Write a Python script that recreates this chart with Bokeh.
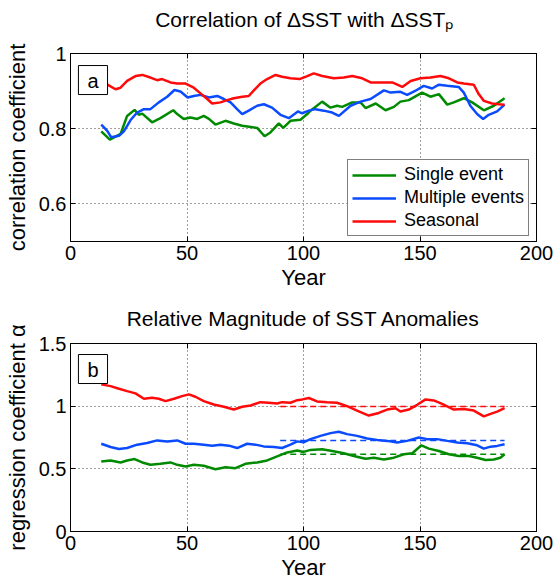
from bokeh.plotting import figure
from bokeh.layouts import column
from bokeh.models import LinearAxis, FixedTicker, Label, Legend, LegendItem, Range1d, Grid
from bokeh.embed import file_html
from bokeh.resources import INLINE

FONT = "Liberation Sans"
GREEN = "#008a00"
BLUE = "#0a4bff"
RED = "#ff0a0a"

# ---------------- data: panel a (correlation coefficient) ----------------
corr_single_year = [13.2, 16.9, 21.5, 24.3, 27.5, 29.3, 30.8, 35.0, 38.6, 44.1, 45.8, 48.6, 51.5, 54.4,
                    57.2, 59.4, 62.2, 66.5, 70.1, 73.7, 80.1, 83.3, 85.8, 89.4, 91.3, 94.4, 98.7, 101.6,
                    103.0, 108.0, 111.6, 114.4, 116.6, 120.9, 124.5, 126.6, 131.0, 135.2, 138.8, 141.6,
                    145.2, 150.9, 154.5, 158.1, 161.7, 164.5, 168.8, 172.4, 177.4, 181.7, 186.3]
corr_single = [0.793, 0.771, 0.786, 0.834, 0.850, 0.837, 0.840, 0.817, 0.828, 0.849, 0.839, 0.826, 0.830,
               0.826, 0.834, 0.826, 0.811, 0.821, 0.814, 0.808, 0.802, 0.780, 0.790, 0.814, 0.802, 0.821,
               0.824, 0.839, 0.848, 0.872, 0.856, 0.861, 0.858, 0.870, 0.870, 0.855, 0.867, 0.849, 0.858,
               0.872, 0.876, 0.896, 0.885, 0.892, 0.864, 0.870, 0.881, 0.870, 0.849, 0.861, 0.881]

corr_multi_year = [13.2, 15.7, 17.5, 20.8, 22.9, 25.8, 28.6, 31.5, 34.3, 37.9, 41.5, 44.6, 47.2, 50.3,
                   52.9, 55.8, 59.4, 63.0, 65.8, 68.7, 71.5, 73.7, 76.5, 80.1, 83.0, 86.5, 90.1, 93.7,
                   97.6, 99.4, 102.3, 105.1, 108.7, 112.3, 115.2, 120.2, 124.5, 128.8, 134.5, 137.4,
                   141.6, 144.5, 148.1, 151.6, 155.2, 158.1, 161.7, 166.6, 168.8, 171.6, 174.5, 177.1,
                   179.5, 183.1, 186.3]
corr_multi = [0.811, 0.795, 0.777, 0.781, 0.793, 0.823, 0.843, 0.852, 0.852, 0.870, 0.885, 0.903, 0.899,
              0.883, 0.887, 0.890, 0.883, 0.887, 0.879, 0.870, 0.852, 0.839, 0.848, 0.861, 0.865, 0.856,
              0.837, 0.828, 0.846, 0.841, 0.848, 0.852, 0.848, 0.843, 0.834, 0.861, 0.872, 0.879, 0.902,
              0.896, 0.898, 0.890, 0.901, 0.914, 0.907, 0.917, 0.914, 0.911, 0.896, 0.861, 0.839, 0.826,
              0.837, 0.846, 0.864]

corr_seasonal_year = [13.2, 15.7, 19.3, 21.5, 24.3, 27.9, 30.8, 34.3, 37.2, 39.3, 42.9, 45.8, 49.4, 52.9,
                      55.8, 58.7, 60.8, 64.4, 67.2, 70.1, 73.7, 76.5, 78.7, 81.5, 84.4, 88.0, 90.8, 94.4,
                      98.3, 101.6, 104.4, 108.0, 113.0, 117.3, 120.9, 125.2, 128.8, 134.5, 138.1, 142.4,
                      146.0, 150.2, 154.5, 158.8, 162.4, 166.0, 168.8, 173.1, 175.2, 177.4, 181.0, 183.8,
                      186.3]
corr_seasonal = [0.922, 0.918, 0.905, 0.909, 0.927, 0.940, 0.943, 0.936, 0.929, 0.932, 0.923, 0.920, 0.920,
                 0.909, 0.894, 0.879, 0.867, 0.870, 0.876, 0.881, 0.885, 0.887, 0.902, 0.920, 0.932, 0.943,
                 0.938, 0.934, 0.932, 0.940, 0.947, 0.940, 0.934, 0.936, 0.940, 0.934, 0.923, 0.923, 0.923,
                 0.911, 0.927, 0.934, 0.936, 0.940, 0.934, 0.923, 0.920, 0.917, 0.892, 0.874, 0.867, 0.865,
                 0.864]

# ---------------- data: panel b (regression coefficient) ----------------
reg_single_year = [13.2, 17.2, 21.5, 24.3, 27.5, 30.8, 34.3, 38.6, 42.9, 45.8, 49.4, 52.9, 57.2, 62.2,
                   66.5, 70.8, 75.1, 80.1, 84.4, 88.7, 93.0, 97.3, 100.0, 103.0, 108.0, 112.3, 117.3,
                   121.6, 126.6, 130.2, 134.5, 138.8, 143.1, 146.7, 150.6, 153.8, 158.1, 162.4, 166.6,
                   171.0, 174.5, 178.1, 181.7, 184.5, 186.3]
reg_single = [0.559, 0.567, 0.551, 0.567, 0.578, 0.551, 0.532, 0.540, 0.551, 0.532, 0.519, 0.532, 0.524,
              0.497, 0.513, 0.505, 0.540, 0.551, 0.567, 0.599, 0.631, 0.647, 0.635, 0.651, 0.656, 0.642,
              0.624, 0.602, 0.581, 0.589, 0.575, 0.589, 0.616, 0.624, 0.688, 0.661, 0.642, 0.616, 0.602,
              0.602, 0.589, 0.570, 0.575, 0.589, 0.616]

reg_multi_year = [13.2, 17.2, 20.8, 24.3, 28.6, 32.9, 37.2, 41.5, 45.8, 49.4, 52.9, 57.2, 60.8, 64.4,
                  68.0, 71.5, 75.8, 79.4, 82.9, 87.3, 90.8, 94.4, 97.3, 100.0, 103.0, 107.3, 111.6,
                  115.2, 118.7, 123.0, 127.3, 131.6, 135.9, 140.2, 144.5, 149.5, 153.1, 157.4, 161.7,
                  166.0, 170.3, 174.5, 177.4, 180.3, 183.1, 186.3]
reg_multi = [0.700, 0.674, 0.658, 0.666, 0.693, 0.706, 0.727, 0.719, 0.727, 0.700, 0.700, 0.693, 0.685,
             0.693, 0.685, 0.666, 0.700, 0.693, 0.679, 0.674, 0.666, 0.693, 0.719, 0.711, 0.737, 0.763,
             0.785, 0.796, 0.777, 0.763, 0.742, 0.731, 0.723, 0.710, 0.723, 0.750, 0.737, 0.737, 0.723,
             0.710, 0.704, 0.688, 0.661, 0.677, 0.683, 0.696]

reg_seasonal_year = [13.2, 17.2, 20.8, 24.3, 27.9, 31.5, 35.0, 37.9, 40.8, 44.4, 47.9, 50.8, 53.6, 57.2,
                     61.5, 65.8, 70.1, 73.7, 77.3, 81.5, 85.1, 88.7, 90.8, 94.4, 97.3, 99.5, 102.3, 105.8,
                     110.1, 114.4, 118.7, 123.0, 128.0, 132.3, 135.9, 139.5, 141.6, 145.2, 148.8, 152.4,
                     155.9, 159.5, 164.5, 168.8, 173.1, 177.4, 180.3, 183.1, 186.3]
reg_seasonal = [1.174, 1.160, 1.139, 1.120, 1.102, 1.059, 1.067, 1.059, 1.040, 1.059, 1.080, 1.094, 1.075,
                1.040, 1.013, 0.995, 0.973, 0.995, 1.005, 1.032, 1.027, 1.021, 1.032, 1.027, 1.048, 1.054,
                1.065, 1.038, 1.032, 1.027, 1.000, 0.965, 0.925, 0.946, 0.973, 0.984, 0.957, 0.973, 1.011,
                1.054, 1.046, 1.019, 0.973, 0.978, 0.965, 0.919, 0.938, 0.957, 0.984]

# mean levels (dashed) over the later period
mean_years = [90.0, 186.3]
mean_single = 0.617
mean_multi = 0.727
mean_seasonal = 0.997

x_ticks = [0, 50, 100, 150, 200]
a_ticks = [0.6, 0.8, 1.0]
a_tick_labels = {0.6: "0.6", 0.8: "0.8", 1.0: "1"}
b_ticks = [0.0, 0.5, 1.0, 1.5]
b_tick_labels = {0.0: "0", 0.5: "0.5", 1.0: "1", 1.5: "1.5"}
legend_labels = ["Single event", "Multiple events", "Seasonal"]
title_a = "Correlation of \u0394SST with \u0394SST\u209a"
title_b = "Relative Magnitude of SST Anomalies"

FRAME_W = 466


def title_strip(text, height, text_y):
    """A strip above panel a that carries its title inside its own frame."""
    t = figure(frame_width=FRAME_W, frame_height=height, x_range=Range1d(0, FRAME_W),
               y_range=Range1d(0, height), output_backend="svg", toolbar_location=None,
               x_axis_type=None, y_axis_type=None, min_border_left=70, min_border_right=18,
               min_border_top=0, min_border_bottom=0)
    t.outline_line_color = None
    t.background_fill_color = "white"
    t.border_fill_color = "white"
    t.xgrid.visible = False
    t.ygrid.visible = False
    t.add_layout(Label(x=FRAME_W / 2 + 1, y=text_y, text=text, text_align="center",
                       text_baseline="middle", text_font=FONT, text_font_size="21px",
                       text_color="black"))
    return t


def style_axis(ax, visible_labels=True):
    ax.major_label_text_font = FONT
    ax.major_label_text_font_size = "20px" if visible_labels else "1px"
    ax.major_label_text_color = "black" if visible_labels else None
    ax.axis_label_text_font = FONT
    ax.axis_label_text_font_size = "22px"
    ax.axis_label_text_font_style = "normal"
    ax.axis_label_text_color = "black"
    ax.axis_line_color = "black"
    ax.axis_line_width = 1
    ax.major_tick_line_color = "black"
    ax.major_tick_in = 5
    ax.major_tick_out = 0
    ax.minor_tick_line_color = None


def make_fig(y0, y1, yticks, ylabels, ylabel, top_border, bottom_border, title=None, title_standoff=0):
    p = figure(frame_width=FRAME_W, frame_height=188, x_range=Range1d(0, 200), y_range=Range1d(y0, y1),
               output_backend="svg", toolbar_location=None, x_axis_type=None, y_axis_type=None,
               min_border_left=70, min_border_right=18, min_border_top=top_border,
               min_border_bottom=bottom_border, title=title)
    if title is not None:
        p.title.align = "center"
        p.title.vertical_align = "top"
        p.title.text_font = FONT
        p.title.text_font_size = "21px"
        p.title.text_font_style = "normal"
        p.title.text_color = "black"
        p.title.standoff = title_standoff
    p.outline_line_color = "black"
    p.outline_line_width = 1
    p.background_fill_color = "white"
    p.border_fill_color = "white"

    xt = FixedTicker(ticks=x_ticks)
    yt = FixedTicker(ticks=yticks)

    bx = LinearAxis(ticker=xt, axis_label="Year")
    style_axis(bx)
    bx.major_label_standoff = 4
    bx.axis_label_standoff = 2
    p.add_layout(bx, "below")

    ly = LinearAxis(ticker=yt, axis_label=ylabel, major_label_overrides=ylabels)
    style_axis(ly)
    ly.major_label_standoff = 4
    ly.axis_label_standoff = 6
    p.add_layout(ly, "left")

    tx = LinearAxis(ticker=xt)
    style_axis(tx, False)
    tx.major_label_standoff = 0
    p.add_layout(tx, "above")

    ry = LinearAxis(ticker=yt)
    style_axis(ry, False)
    ry.major_label_standoff = 0
    p.add_layout(ry, "right")

    for dim, tk in ((0, xt), (1, yt)):
        g = Grid(dimension=dim, ticker=tk, grid_line_color="black", grid_line_alpha=0.75,
                 grid_line_dash="1 3", grid_line_width=1)
        p.add_layout(g)
    return p


# ---------------- panel a ----------------
t1 = title_strip(title_a, 40, 21.5)
p1 = make_fig(0.5, 1.0, a_ticks, a_tick_labels, "correlation coefficient", 13, 49)
r1 = p1.line(corr_single_year, corr_single, line_color=GREEN, line_width=2.5)
r2 = p1.line(corr_multi_year, corr_multi, line_color=BLUE, line_width=2.5)
r3 = p1.line(corr_seasonal_year, corr_seasonal, line_color=RED, line_width=2.5)

legend = Legend(items=[LegendItem(label=legend_labels[0], renderers=[r1]),
                       LegendItem(label=legend_labels[1], renderers=[r2]),
                       LegendItem(label=legend_labels[2], renderers=[r3])],
                location=(277, 5), orientation="vertical")
legend.border_line_color = "black"
legend.border_line_width = 1
legend.background_fill_color = "white"
legend.background_fill_alpha = 1.0
legend.label_text_font = FONT
legend.label_text_font_size = "18px"
legend.label_text_color = "black"
legend.glyph_width = 44
legend.glyph_height = 20
legend.label_height = 20
legend.label_standoff = 8
legend.spacing = 2
legend.padding = 4
legend.margin = 0
p1.add_layout(legend)

p1.add_layout(Label(x=3.4, y=0.968, text="a", text_align="left", text_baseline="top", text_font=FONT,
                    text_font_size="20px", text_color="black", border_line_color="black",
                    background_fill_color="white", padding=(9, 9, 4, 3)))

# ---------------- panel b ----------------
p2 = make_fig(0.0, 1.5, b_ticks, b_tick_labels, "regression coefficient \u03b1", 51, 0,
              title=title_b, title_standoff=24)
p2.line(reg_single_year, reg_single, line_color=GREEN, line_width=2.5)
p2.line(reg_multi_year, reg_multi, line_color=BLUE, line_width=2.5)
p2.line(reg_seasonal_year, reg_seasonal, line_color=RED, line_width=2.5)
p2.line(mean_years, [mean_single] * len(mean_years), line_color=GREEN, line_width=1.5, line_dash="6 4")
p2.line(mean_years, [mean_multi] * len(mean_years), line_color=BLUE, line_width=1.5, line_dash="6 4")
p2.line(mean_years, [mean_seasonal] * len(mean_years), line_color=RED, line_width=1.5, line_dash="6 4")

p2.add_layout(Label(x=3.4, y=1.412, text="b", text_align="left", text_baseline="top", text_font=FONT,
                    text_font_size="20px", text_color="black", border_line_color="black",
                    background_fill_color="white", padding=(9, 9, 4, 3)))

layout = column(t1, p1, p2, spacing=0)
open("out.html", "w").write(file_html(layout, INLINE))
